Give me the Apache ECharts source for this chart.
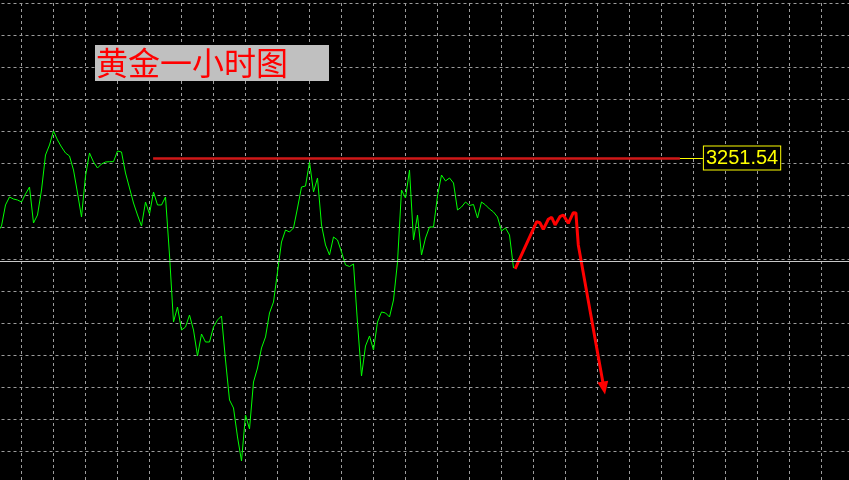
<!DOCTYPE html>
<html><head><meta charset="utf-8">
<script src="https://cdn.jsdelivr.net/npm/echarts@6/dist/echarts.min.js"></script>
<style>html,body{margin:0;padding:0;background:#000}#c{width:849px;height:480px}</style>
</head><body><div id="c"></div>
<script>
// bar index of first green point (one bar = one hour)
const greenStart = 2;
const greenPrices = [
 3228.44,3230.31,3236.88,3239.38,3238.75,3238.44,3237.81,3240.31,3242.5,3231.25,
 3233.75,3241.56,3252.5,3255.63,3260,3257.19,3255,3253.13,3252.19,3247.81,
 3240.63,3233.13,3245.94,3253.13,3250.31,3248.44,3249.69,3250.31,3250.41,3250.41,
 3253.75,3253.44,3246.88,3242.19,3237.5,3233.75,3230.31,3237.81,3234.06,3240.94,
 3236.88,3236.88,3239.38,3221.25,3200.31,3205,3197.81,3198.75,3202.5,3197.81,
 3189.69,3196.56,3194.06,3194.06,3198.75,3200.94,3202.19,3188.44,3175.94,3173.44,
 3164.38,3156.88,3171.25,3166.88,3181.56,3185.94,3192.19,3195.63,3203.13,3206.56,
 3215.94,3225.31,3229.06,3228.44,3229.69,3235.94,3242.5,3242.81,3250.31,3240.94,
 3245.31,3230.63,3224.38,3221.25,3226.88,3225.94,3222.19,3218.13,3217.66,3218.44,
 3200,3183.44,3192.81,3195.94,3191.56,3200.31,3203.44,3203.13,3201.88,3207.19,
 3219.06,3241.56,3239.06,3247.81,3225.94,3233.75,3221.25,3226.56,3230,3230,
 3239.69,3246.25,3244.38,3245.31,3243.75,3235.31,3236.25,3237.81,3236.72,3237.03,
 3232.81,3237.81,3236.88,3235.63,3234.69,3233.13,3228.75,3229.69,3227.5,3217.19
];
// hand-drawn red forecast arrow (bar position, price)
const arrowBars   = [131.4,136.8,137.6,138.45,139.7,140.55,141.4,142.6,143.45,144.7,145.95,146.6,147.2,153.6];
const arrowPrices = [3216.88,3231.66,3231.34,3229.28,3232.41,3233.03,3230.63,3233.22,3233.75,3231.16,3234.47,3234.38,3224.38,3179.69];
// resistance level
const levelPrice = 3251.54;
const levelFromBar = 40.9, levelToBar = 172.6, labelBar = 178.6;
// current price line
const bidPrice = 3219.4;
const titleText = '黄金一小时图';

const greenData = greenPrices.map((v, i) => [greenStart + i, v]);
const arrowData = arrowBars.map((b, i) => {
  const last = i === arrowBars.length - 1;
  return last ? {value: [b, arrowPrices[i]], symbol: 'triangle', symbolSize: [11, 13], symbolRotate: 190}
              : {value: [b, arrowPrices[i]], symbol: 'none'};
});

const chart = echarts.init(document.getElementById('c'), null, {renderer: 'canvas'});
const gridLine = {show: true, lineStyle: {color: '#9c9c9c', width: 1, type: [3, 3]}};
chart.setOption({
  animation: false,
  backgroundColor: '#000000',
  grid: {left: -10.5, top: 3, width: 864, height: 480, containLabel: false, outerBoundsMode: 'none'},
  xAxis: {type: 'value', min: 0, max: 216, interval: 8,
    axisLabel: {show: false}, axisLine: {show: false}, axisTick: {show: false}, splitLine: gridLine},
  yAxis: {type: 'value', min: 3150, max: 3300, interval: 10,
    axisLabel: {show: false}, axisLine: {show: false}, axisTick: {show: false}, splitLine: gridLine},
  graphic: [
    {type: 'rect', shape: {x: 95, y: 45, width: 234, height: 36}, style: {fill: '#c0c0c0'}, z: 10},
    {type: 'text', x: 96, y: 63, style: {text: titleText, fill: '#ff0000', font: '32px "Noto Sans CJK SC"', verticalAlign: 'middle'}, z: 11}
  ],
  series: [
    {type: 'line', data: greenData, symbol: 'none', lineStyle: {color: '#00ff00', width: 1}, z: 3,
     markLine: {silent: true, symbol: 'none', animation: false,
       data: [
         [{coord: [0, bidPrice], lineStyle: {color: '#c8c8c8', width: 1, type: 'solid'}, label: {show: false}},
          {coord: [216, bidPrice]}],
         [{coord: [levelFromBar, levelPrice], lineStyle: {color: '#d01818', width: 2.5, type: 'solid'}, label: {show: false}},
          {coord: [levelToBar, levelPrice]}],
         [{coord: [levelToBar, levelPrice], lineStyle: {color: '#ffff00', width: 1, type: 'solid'},
           label: {show: true, position: 'end', distance: 0, formatter: levelPrice.toFixed(2),
             color: '#ffff00', fontSize: 20, fontFamily: 'Liberation Sans', lineHeight: 20,
             backgroundColor: '#000', borderColor: '#ffff00', borderWidth: 1, padding: [2, 2, 1, 2]}},
          {coord: [labelBar, levelPrice]}]
       ]}},
    {type: 'line', data: arrowData, showSymbol: true, symbol: 'none',
     itemStyle: {color: '#ff0000'}, lineStyle: {color: '#ff0000', width: 3}, z: 4}
  ]
});
</script></body></html>
